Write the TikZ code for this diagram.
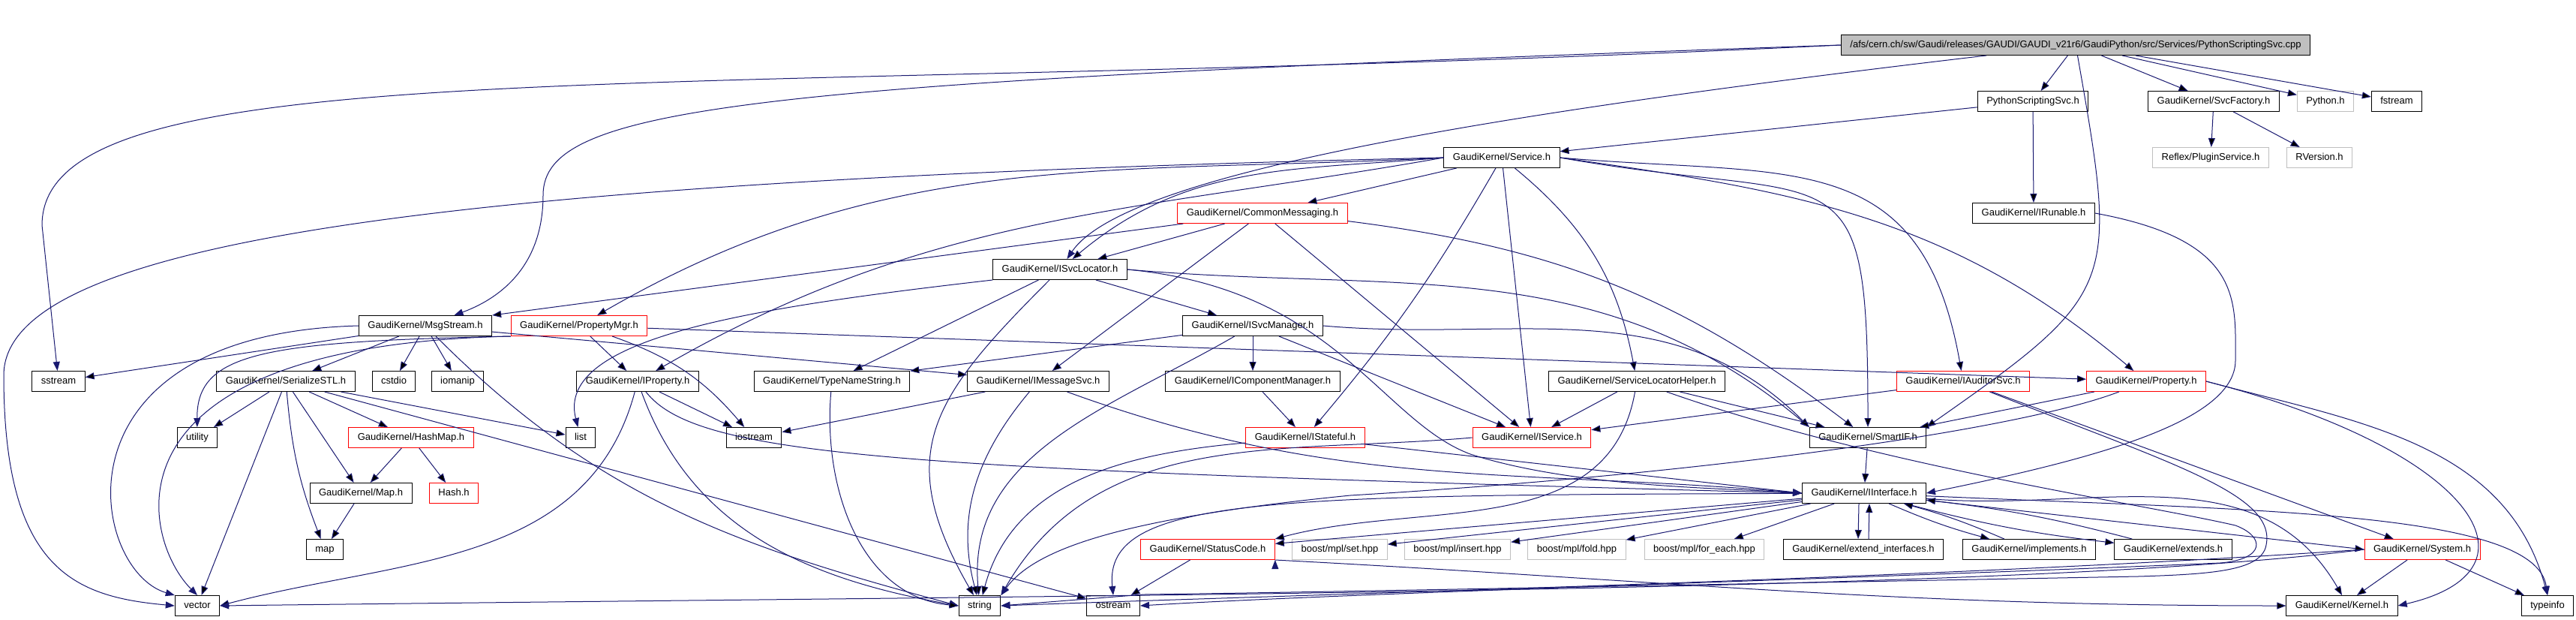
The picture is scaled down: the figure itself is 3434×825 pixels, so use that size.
\documentclass[tikz,border=0pt]{standalone}
\usepackage{fontspec}
\setmainfont{Liberation Sans}
\usetikzlibrary{arrows.meta}
\definecolor{edgeblue}{RGB}{25,25,112}
\definecolor{extgrey}{RGB}{191,191,191}

\begin{document}
\begin{tikzpicture}[x=0.25pt,y=0.25pt,
  file/.style={draw=black,line width=0.25pt,rectangle,inner xsep=3pt,inner ysep=0pt,
    minimum height=6.75pt,text height=2.5pt,text depth=0.75pt,font=\fontsize{3.25}{3.75}\selectfont},
  more/.style={file,draw=red},
  ext/.style={file,draw=extgrey},
  dep/.style={-{Triangle[length=3pt,width=2.25pt]},draw=edgeblue,line width=0.25pt}]
\useasboundingbox (0,0) rectangle (3434,-825);

  \node[file,fill=extgrey] (root) at (2767,-60) {/afs/cern.ch/sw/Gaudi/releases/GAUDI/GAUDI\_v21r6/GaudiPython/src/Services/PythonScriptingSvc.cpp};
  \node[file]  (pss)    at (2710,-135) {PythonScriptingSvc.h};
  \node[file]  (svcfac) at (2951,-135) {GaudiKernel/SvcFactory.h};
  \node[ext]   (pyh)    at (3100,-135) {Python.h};
  \node[file]  (fstr)   at (3195,-135) {fstream};
  \node[file]  (svc)    at (2002,-210) {GaudiKernel/Service.h};
  \node[ext]   (plug)   at (2947,-210) {Reflex/PluginService.h};
  \node[ext]   (rver)   at (3092,-210) {RVersion.h};
  \node[more]  (cmsg)   at (1683,-284) {GaudiKernel/CommonMessaging.h};
  \node[file]  (irun)   at (2711,-284) {GaudiKernel/IRunable.h};
  \node[file]  (isl)    at (1413,-359) {GaudiKernel/ISvcLocator.h};
  \node[file]  (msgs)   at (567,-434)  {GaudiKernel/MsgStream.h};
  \node[more]  (pmgr)   at (772,-434)  {GaudiKernel/PropertyMgr.h};
  \node[file]  (ismgr)  at (1670,-434) {GaudiKernel/ISvcManager.h};
  \node[file]  (sstr)   at (78,-508)   {sstream};
  \node[file]  (sstl)   at (381,-508)  {GaudiKernel/SerializeSTL.h};
  \node[file]  (cstd)   at (525,-508)  {cstdio};
  \node[file]  (ioman)  at (610,-508)  {iomanip};
  \node[file]  (iprop)  at (850,-508)  {GaudiKernel/IProperty.h};
  \node[file]  (tns)    at (1109,-508) {GaudiKernel/TypeNameString.h};
  \node[file]  (imsg)   at (1384,-508) {GaudiKernel/IMessageSvc.h};
  \node[file]  (icm)    at (1670,-508) {GaudiKernel/IComponentManager.h};
  \node[file]  (slh)    at (2182,-508) {GaudiKernel/ServiceLocatorHelper.h};
  \node[more]  (iaud)   at (2617,-508) {GaudiKernel/IAuditorSvc.h};
  \node[more]  (prop)   at (2861,-508) {GaudiKernel/Property.h};
  \node[file]  (util)   at (263,-583)  {utility};
  \node[more]  (hmap)   at (548,-583)  {GaudiKernel/HashMap.h};
  \node[file]  (list)   at (774,-583)  {list};
  \node[file]  (iostr)  at (1005,-583) {iostream};
  \node[more]  (istat)  at (1740,-583) {GaudiKernel/IStateful.h};
  \node[more]  (isvc)   at (2042,-583) {GaudiKernel/IService.h};
  \node[file]  (smif)   at (2490,-583) {GaudiKernel/SmartIF.h};
  \node[file]  (maph)   at (481,-657)  {GaudiKernel/Map.h};
  \node[more]  (hash)   at (605,-657)  {Hash.h};
  \node[file]  (iint)   at (2485,-657) {GaudiKernel/IInterface.h};
  \node[file]  (mapn)   at (433,-732)  {map};
  \node[more]  (stc)    at (1610,-732) {GaudiKernel/StatusCode.h};
  \node[ext]   (bset)   at (1786,-732) {boost/mpl/set.hpp};
  \node[ext]   (bins)   at (1943,-732) {boost/mpl/insert.hpp};
  \node[ext]   (bfold)  at (2102,-732) {boost/mpl/fold.hpp};
  \node[ext]   (bfe)    at (2272,-732) {boost/mpl/for\_each.hpp};
  \node[file]  (extif)  at (2484,-732) {GaudiKernel/extend\_interfaces.h};
  \node[file]  (impl)   at (2705,-732) {GaudiKernel/implements.h};
  \node[file]  (exts)   at (2897,-732) {GaudiKernel/extends.h};
  \node[more]  (sys)    at (3229,-732) {GaudiKernel/System.h};
  \node[file]  (vec)    at (263,-807)  {vector};
  \node[file]  (str)    at (1306,-807) {string};
  \node[file]  (ostr)   at (1484,-807) {ostream};
  \node[file]  (kern)   at (3122,-807) {GaudiKernel/Kernel.h};
  \node[file]  (tinfo)  at (3396,-807) {typeinfo};

\path[dep]
(root)   edge (pss)
         edge (svcfac)
         edge (pyh)
         edge (fstr)
         edge [out=-80,in=35,looseness=1.5] (smif.north east)
(pss)    edge (svc)
         edge (irun)
(svcfac) edge (plug)
         edge (rver)
(svc)    edge (cmsg)
         edge [bend left=5] (istat)
         edge (isvc)
         edge [bend left=20] (slh)
(svc.east) edge [out=-5,in=100,looseness=1.3] (iaud)
         edge [out=-10,in=90,looseness=1.8] (smif)
         edge [out=-8,in=140] (prop)
(svc.west) edge [out=185,in=40] (isl)
         edge [out=183,in=30] (pmgr)
         edge [out=190,in=30] (iprop)
(cmsg)   edge (isl)
         edge (msgs.north east)
         edge (imsg)
         edge (isvc)
         edge [bend left=15] (smif)
(isl)    edge (ismgr)
         edge (tns)
         edge [out=-135,in=120,looseness=1.3] (str)
(isl.east) edge [out=-5,in=140] (smif.north west)
(msgs)   edge (sstr)
         edge (sstl)
         edge (cstd)
         edge (ioman)
         edge (imsg)
         edge [out=-45,in=165] (str.west)
(pmgr)   edge (iprop)
         edge [bend left=15] (iostr)
         edge (prop)
(ismgr)  edge (tns)
         edge [out=-150,in=95] (str)
         edge (icm)
         edge (isvc)
(ismgr.east) edge [out=-5,in=135] (smif.north west)
(sstl)   edge (util)
         edge (vec)
         edge [bend right=8] (mapn)
         edge (maph)
         edge (hmap)
         edge (list)
         edge (ostr)
(hmap)   edge (maph)
         edge (hash)
(maph)   edge (mapn)
(iprop)  edge (iostr)
         edge [out=-105,in=15] (vec.east)
         edge [out=-70,in=170] (str.west)
(tns)    edge [out=-95,in=175] (str.west)
(imsg)   edge (iostr)
         edge [out=-130,in=105] (str)
         edge [out=-20,in=175] (iint.west)
(icm)    edge (istat)
(istat)  edge (iint.west)
         edge [out=185,in=75] (str)
(isvc.west) edge [out=185,in=60] (str.north east)
(slh)    edge (isvc)
         edge (smif)
         edge [out=-100,in=15] (stc.north east)
(iaud)   edge (isvc)
         edge (sys)
(prop)   edge (smif)
(prop.east) edge [out=-15,in=105] (tinfo.north)
(smif)   edge (iint)
(iint)   edge (stc)
         edge (bset)
         edge (bins)
         edge (bfold)
         edge (bfe)
         edge [bend right=4] (impl)
         edge [bend right=4] (exts)
         edge (sys.west)
         edge [out=-5,in=120] (kern.north)
([xshift=-1.75pt]iint.south) edge ([xshift=-1.75pt]extif.north)
([xshift=1.75pt]extif.north) edge ([xshift=1.75pt]iint.south)
(impl)   edge [bend right=4] (iint)
(exts)   edge [bend right=4] (iint)
(stc)    edge (ostr)
(stc.south east) edge [out=-3,in=180] (kern.west)
(sys)    edge (kern)
         edge (tinfo);

\draw[dep] (root.west) .. controls (900,-135) and (56,-60) .. (56,-300) -- (sstr);
\draw[dep] (root.west) .. controls (1000,-110) and (724,-140) .. (724,-260)
           .. controls (724,-360) and (660,-400) .. (msgs.20);
\draw[dep] (root) .. controls (2000,-150) and (1500,-230) .. (isl);
\draw[dep] (svc.west) .. controls (600,-240) and (5,-320) .. (5,-500)
           .. controls (5,-760) and (100,-795) .. (vec.west);
\draw[dep] (isl.east) .. controls (1780,-385) and (1840,-560) .. (1960,-605)
           .. controls (2100,-650) and (2300,-650) .. (iint.west);
\draw[dep] (isl.south west) .. controls (1000,-410) and (740,-450) .. (list);
\draw[dep] (msgs.west) .. controls (60,-445) and (120,-760) .. (vec.north west);
\draw[dep] (pmgr.south west) .. controls (350,-455) and (262,-470) .. (util);
\draw[dep] (pmgr.south west) .. controls (120,-460) and (190,-720) .. (vec.north);
\draw[dep] (iprop) .. controls (930,-610) and (1200,-625) .. (iint.west);
\draw[dep] (irun.east) .. controls (2990,-320) and (2980,-400) .. (2980,-480)
           .. controls (2980,-560) and (2800,-610) .. (iint.east);
\draw[dep] (prop) .. controls (2700,-570) and (2300,-630) .. (1800,-660)
           .. controls (1500,-690) and (1380,-730) .. (str.north east);
\draw[dep] (prop.east) .. controls (3300,-600) and (3400,-760) .. (kern.east);
\draw[dep] (slh) .. controls (2500,-620) and (2850,-670) .. (2980,-700)
           .. controls (3020,-715) and (3020,-745) .. (2960,-750)
           .. controls (2500,-770) and (1800,-790) .. (ostr.east);
\draw[dep] (iaud) .. controls (2900,-620) and (3040,-660) .. (3020,-730)
           .. controls (3010,-760) and (2950,-765) .. (2850,-768)
           .. controls (2200,-780) and (1700,-790) .. (1525,-792) -- (str.east);
\draw[dep] (iint) .. controls (3000,-680) and (3380,-680) .. (tinfo.north);
\draw[dep] (iint) .. controls (1700,-660) and (1470,-660) .. (ostr.north);
\draw[dep] (sys.west) .. controls (2700,-790) and (1500,-792) .. (vec.east);
\draw[dep] (sys.west) .. controls (2600,-770) and (1800,-790) .. (str.east);
\end{tikzpicture}
\end{document}
